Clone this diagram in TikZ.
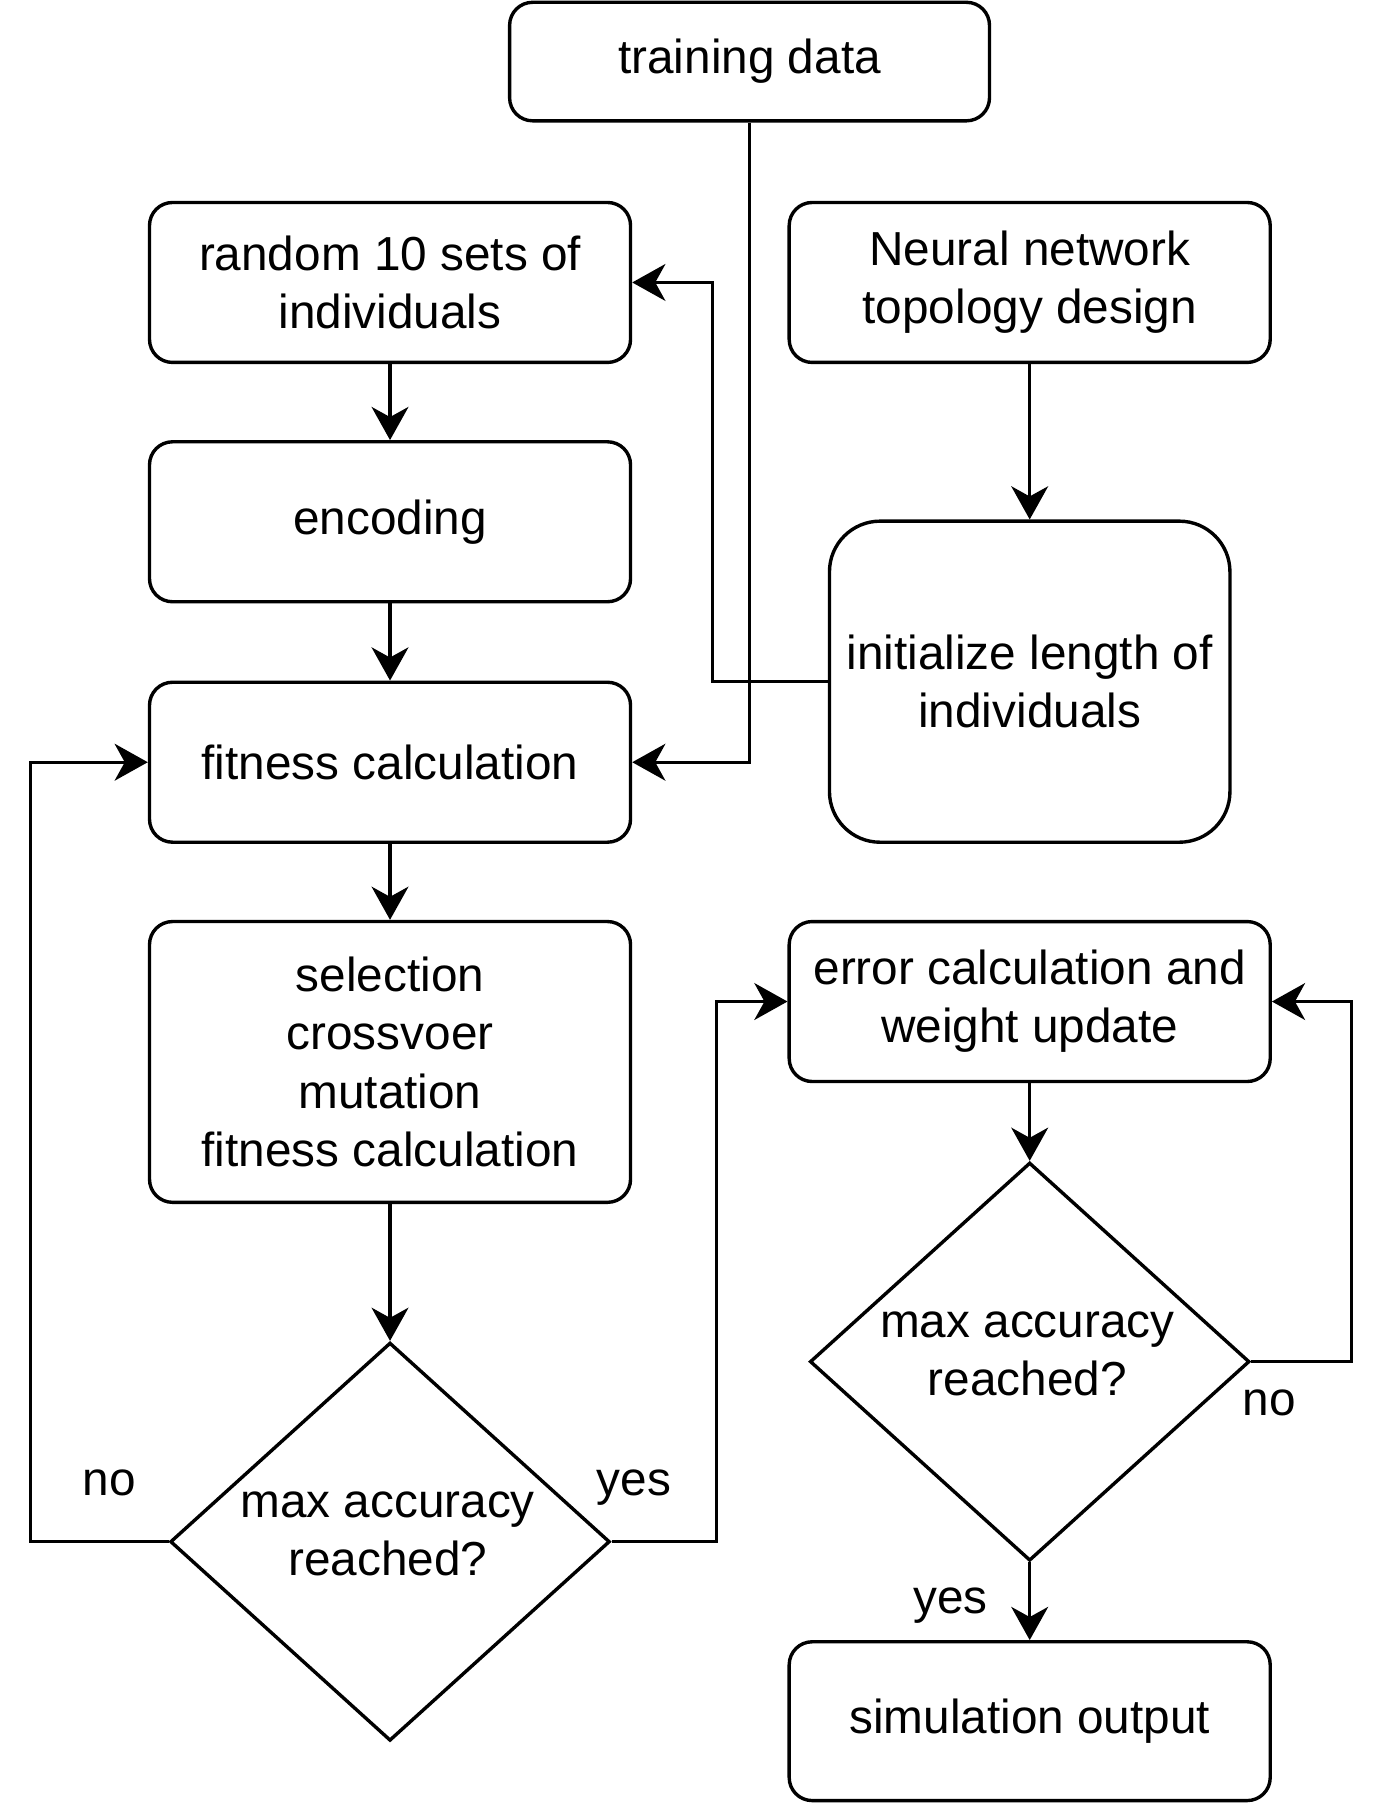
\documentclass[tikz,border=0pt]{standalone}
\usepackage{fontspec}
\setmainfont{Liberation Sans}
\usetikzlibrary{arrows.meta, shapes.geometric, positioning}

\begin{document}
\begin{tikzpicture}[
        x=0.025cm, y=-0.025cm,
        line width=2.1pt,
        >={Stealth[length=0.72cm, width=0.8cm, inset=0.22cm]},
        font=\fontsize{29.5}{36}\selectfont,
        box/.style={draw, rounded corners=0.5cm, align=center,
            minimum width=10.45cm, minimum height=3.475cm},
        decision/.style={draw, diamond, inner sep=0pt,
            minimum width=9.55cm, minimum height=8.65cm},
        answer/.style={anchor=base}]

    \useasboundingbox (0,0) rectangle (1203,1568);

    % boxes
    \node [box, minimum width=10.425cm, minimum height=2.575cm]
                            (data)     at (651.5,53.5) {training data};
    \node [box]             (random)   at (339,245.5)  {random 10 sets of\\individuals};
    \node [box]             (neural)   at (895,245.5)  {Neural network\\topology design};
    \node [box]             (encoding) at (339,453.5)  {encoding};
    \node [box, rounded corners=1.1cm, minimum width=8.7cm, minimum height=6.975cm]
                            (init)     at (895,592.5)  {initialize length of\\individuals};
    \node [box]             (fitness)  at (339,662.5)  {fitness calculation};
    \node [box, minimum height=6.1cm]
                            (select)   at (339,923)    {selection\\crossvoer\\mutation\\fitness calculation};
    \node [box]             (error)    at (895,870.5)  {error calculation and\\weight update};
    \node [box, minimum height=3.45cm]
                            (output)   at (895,1496)   {simulation output};

    % decisions
    \node [decision]        (check1)   at (339,1340)   {};
    \node [align=center]    (check1t)  at (337,1333)   {max accuracy\\reached?};
    \node [decision]        (check2)   at (895,1183.5) {};
    \node [align=center]    (check2t)  at (893,1177)   {max accuracy\\reached?};

    % answers
    \node [answer] (no1)  at (95,1300)  {no};
    \node [answer] (yes1) at (551,1300) {yes};
    \node [answer] (no2)  at (1103,1230) {no};
    \node [answer] (yes2) at (826,1402) {yes};

    \path [->]
        (random)   edge (encoding)
        (encoding) edge (fitness)
        (fitness)  edge (select)
        (select)   edge (check1)
        (neural)   edge (init)
        (error)    edge (check2)
        (check2)   edge (output);

    \draw [->] (data.south) |- (fitness.east);
    \draw [->] (init.west) -- ++(-100,0) |- (random.east);
    \draw [->] (check1.west) -- ++(-120,0) |- (fitness.west);
    \draw [->] (check1.east) -- ++(91,0) |- (error.west);
    \draw [->] (check2.east) -- ++(87,0) |- (error.east);
\end{tikzpicture}
\end{document}
